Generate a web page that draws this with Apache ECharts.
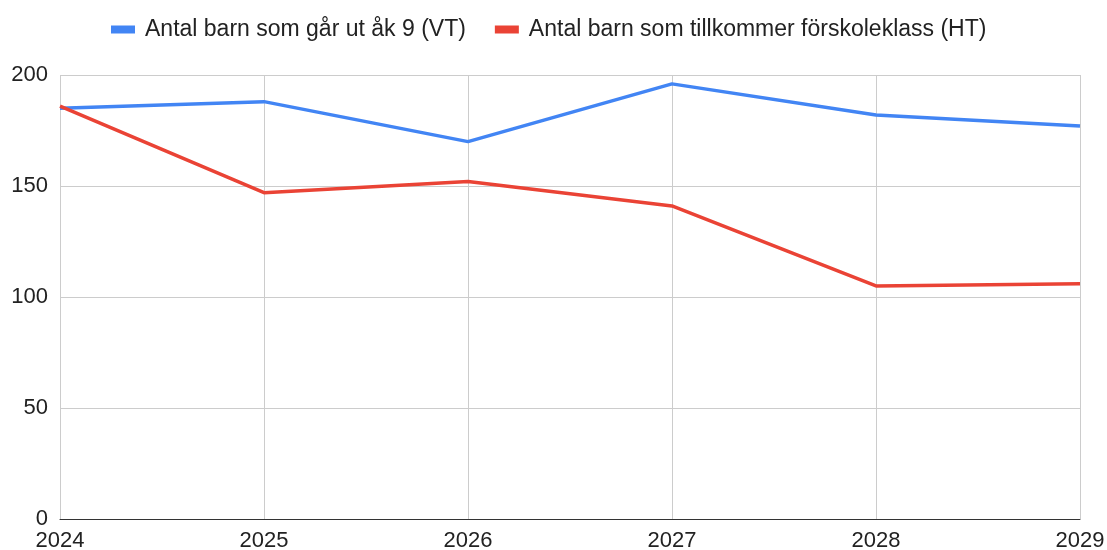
<!DOCTYPE html>
<html>
<head>
<meta charset="utf-8">
<script src="https://cdn.jsdelivr.net/npm/echarts@6/dist/echarts.min.js"></script>
<style>html,body{margin:0;padding:0;background:#fff}#c{width:1107px;height:550px}</style>
</head>
<body>
<div id="c"></div>
<script>
const years = ['2024', '2025', '2026', '2027', '2028', '2029'];
const seriesVT = [185, 188, 170, 196, 182, 177];
const seriesHT = [186, 147, 152, 141, 105, 106];
const nameVT = 'Antal barn som går ut åk 9 (VT)';
const nameHT = 'Antal barn som tillkommer förskoleklass (HT)';

const chart = echarts.init(document.getElementById('c'));
const font = '"Liberation Sans", Arial, sans-serif';
chart.setOption({
  animation: false,
  textStyle: { fontFamily: font },
  legend: {
    left: 106, top: 13,
    itemWidth: 24, itemHeight: 8, itemGap: 29,
    icon: 'rect',
    textStyle: { fontSize: 23, color: '#222', fontFamily: font, padding: [0, 0, 0, 5] },
    data: [nameVT, nameHT]
  },
  grid: { left: 60, right: 27, top: 75, bottom: 31, containLabel: false, outerBoundsMode: 'none' },
  xAxis: {
    type: 'category', data: years, boundaryGap: false,
    axisLine: { lineStyle: { color: '#333', width: 1 } },
    axisTick: { show: false },
    axisLabel: { fontSize: 22, color: '#222', margin: 11, fontFamily: font, showMaxLabel: true, showMinLabel: true, interval: 0 },
    splitLine: { show: true, interval: 0, lineStyle: { color: '#ccc', width: 1 } }
  },
  yAxis: {
    type: 'value', min: 0, max: 200, interval: 50,
    axisLine: { show: false }, axisTick: { show: false },
    axisLabel: { fontSize: 22, color: '#222', margin: 12, fontFamily: font },
    splitLine: { lineStyle: { color: '#ccc', width: 1 } }
  },
  series: [
    { name: nameVT, type: 'line', data: seriesVT, symbol: 'none', lineStyle: { color: '#4285F4', width: 3.5 }, itemStyle: { color: '#4285F4' } },
    { name: nameHT, type: 'line', data: seriesHT, symbol: 'none', lineStyle: { color: '#EA4335', width: 3.5 }, itemStyle: { color: '#EA4335' } }
  ]
});
</script>
</body>
</html>
